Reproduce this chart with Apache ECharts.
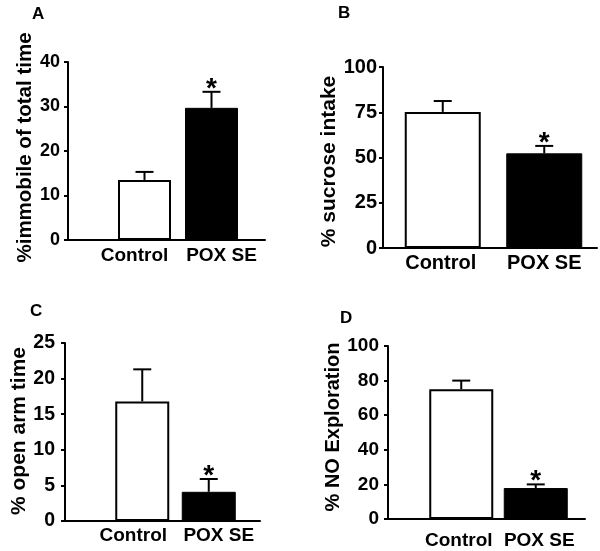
<!DOCTYPE html>
<html><head><meta charset="utf-8">
<script src="https://cdn.jsdelivr.net/npm/echarts@6/dist/echarts.min.js"></script>
<style>html,body{margin:0;padding:0;background:#fff}#c{width:600px;height:551px}</style>
</head><body><div id="c"></div>
<script>
const categories = ['Control', 'POX SE'];
// Panel A
const meanA = [13.5, 29.7];
const semA = [1.8, 3.6];
const sigA = [false, true];
const ticksA = [0, 10, 20, 30, 40];
// Panel B
const meanB = [75.2, 52.3];
const semB = [6.0, 4.1];
const sigB = [false, true];
const ticksB = [0, 25, 50, 75, 100];
// Panel C
const meanC = [16.8, 4.1];
const semC = [4.5, 1.8];
const sigC = [false, true];
const ticksC = [0, 5, 10, 15, 20, 25];
// Panel D
const meanD = [75.0, 17.9];
const semD = [5.0, 2.1];
const sigD = [false, true];
const ticksD = [0, 20, 40, 60, 80, 100];

const FONT = '"Liberation Sans", Arial, sans-serif';

const panels = [
  {letter:'A', lx:32, ly:6, mean:meanA, sem:semA, sig:sigA, ticks:ticksA, name:'%immobile of total time',
   ax:68, top:62, bottom:240, xEnd:265, bl:111, br:245, bw:53, tickFs:18, nameFs:20.5, nameGap:32, namePad:[0,0,0,7], labFs:19, labMargin:6, yLabMargin:8,
   labPad:[[0,20,0,0],[0,0,0,20]]},
  {letter:'B', lx:338, ly:5, mean:meanB, sem:semB, sig:sigB, ticks:ticksB, name:'% sucrose intake',
   ax:383, top:67, bottom:248, xEnd:597, bl:392, br:595, bw:76, tickFs:20, nameFs:21, nameGap:38, namePad:[0,8,0,0], labFs:20, labMargin:5, yLabMargin:6,
   labPad:[[0,4,0,0],[0,0,0,0]]},
  {letter:'C', lx:30, ly:303, mean:meanC, sem:semC, sig:sigC, ticks:ticksC, name:'% open arm time',
   ax:65, top:343, bottom:521, xEnd:260, bl:109, br:242, bw:54, tickFs:19.5, nameFs:21, nameGap:34, namePad:[0,0,0,2], labFs:19, labMargin:5, yLabMargin:10,
   labPad:[[0,18,0,0],[0,0,0,20]]},
  {letter:'D', lx:340, ly:310, mean:meanD, sem:semD, sig:sigD, ticks:ticksD, name:'% NO Exploration',
   ax:388, top:346, bottom:519, xEnd:585, bl:424, br:573, bw:64, tickFs:19, nameFs:20, nameGap:44, namePad:[0,0,0,11], labFs:19, labMargin:12, yLabMargin:9,
   labPad:[[0,5,0,0],[0,0,0,7]]}
];

const grid = [], xAxis = [], yAxis = [], series = [], graphic = [];
panels.forEach((p, i) => {
  const gA = 2*i, gB = 2*i+1;
  const yMax = p.ticks[p.ticks.length-1];
  const interval = p.ticks[1] - p.ticks[0];
  grid.push({left:p.ax, top:p.top, width:p.xEnd-p.ax, height:p.bottom-p.top});
  grid.push({left:p.bl, top:p.top, width:p.br-p.bl, height:p.bottom-p.top});
  xAxis.push({gridIndex:gA, type:'value', min:0, max:1, axisLine:{show:true, onZero:false, lineStyle:{color:'#000', width:2}},
    axisTick:{show:false}, axisLabel:{show:false}, splitLine:{show:false}});
  xAxis.push({gridIndex:gB, type:'category', data: categories.map((c,k)=>({value:c, textStyle:{padding:p.labPad[k]}})),
    axisLine:{show:false}, axisTick:{show:false},
    axisLabel:{color:'#000', fontFamily:FONT, fontWeight:'bold', fontSize:p.labFs, margin:p.labMargin, interval:0}});
  yAxis.push({gridIndex:gA, type:'value', min:0, max:yMax, interval:interval,
    axisLine:{show:true, lineStyle:{color:'#000', width:2}},
    axisTick:{show:true, length:4, lineStyle:{color:'#000', width:2}},
    axisLabel:{color:'#000', fontFamily:FONT, fontWeight:'bold', fontSize:p.tickFs, margin:p.yLabMargin},
    splitLine:{show:false},
    name:p.name, nameLocation:'middle', nameGap:p.nameGap, nameRotate:90,
    nameTextStyle:{color:'#000', fontFamily:FONT, fontWeight:'bold', fontSize:p.nameFs, padding:p.namePad}});
  yAxis.push({gridIndex:gB, type:'value', min:0, max:yMax, interval:interval, show:false});
  series.push({type:'bar', xAxisIndex:gB, yAxisIndex:gB, barWidth:p.bw, silent:true,
    data: p.mean.map((v,k)=>({value:v, itemStyle: k===0 ? {color:'#fff', borderColor:'#000', borderWidth:2} : {color:'#000', borderColor:'#000', borderWidth:1}}))});
  series.push({type:'custom', xAxisIndex:gB, yAxisIndex:gB, silent:true, z:5,
    data: p.mean.map((v,k)=>[k, v, p.sem[k], p.sig[k] ? 1 : 0]),
    renderItem: function(params, api){
      const k = api.value(0), m = api.value(1), s = api.value(2), sg = api.value(3);
      const base = api.coord([k, m]);
      const topP = api.coord([k, m + s]);
      const x = base[0];
      const cap = 9;
      const children = [
        {type:'line', shape:{x1:x, y1:base[1], x2:x, y2:topP[1]}, style:{stroke:'#000', lineWidth:2}},
        {type:'line', shape:{x1:x-cap, y1:topP[1], x2:x+cap, y2:topP[1]}, style:{stroke:'#000', lineWidth:2}}
      ];
      if (sg) {
        children.push({type:'text', style:{text:'*', x:x, y:topP[1]-3, textAlign:'center', textVerticalAlign:'middle',
          font:'bold 28px ' + FONT, fill:'#000'}});
      }
      return {type:'group', children};
    }});
  graphic.push({type:'text', left:p.lx, top:p.ly, style:{text:p.letter, font:'bold 17px ' + FONT, fill:'#000'}});
});

const chart = echarts.init(document.getElementById('c'), null, {renderer:'canvas'});
chart.setOption({animation:false, backgroundColor:'#fff', grid, xAxis, yAxis, series, graphic});
</script></body></html>
